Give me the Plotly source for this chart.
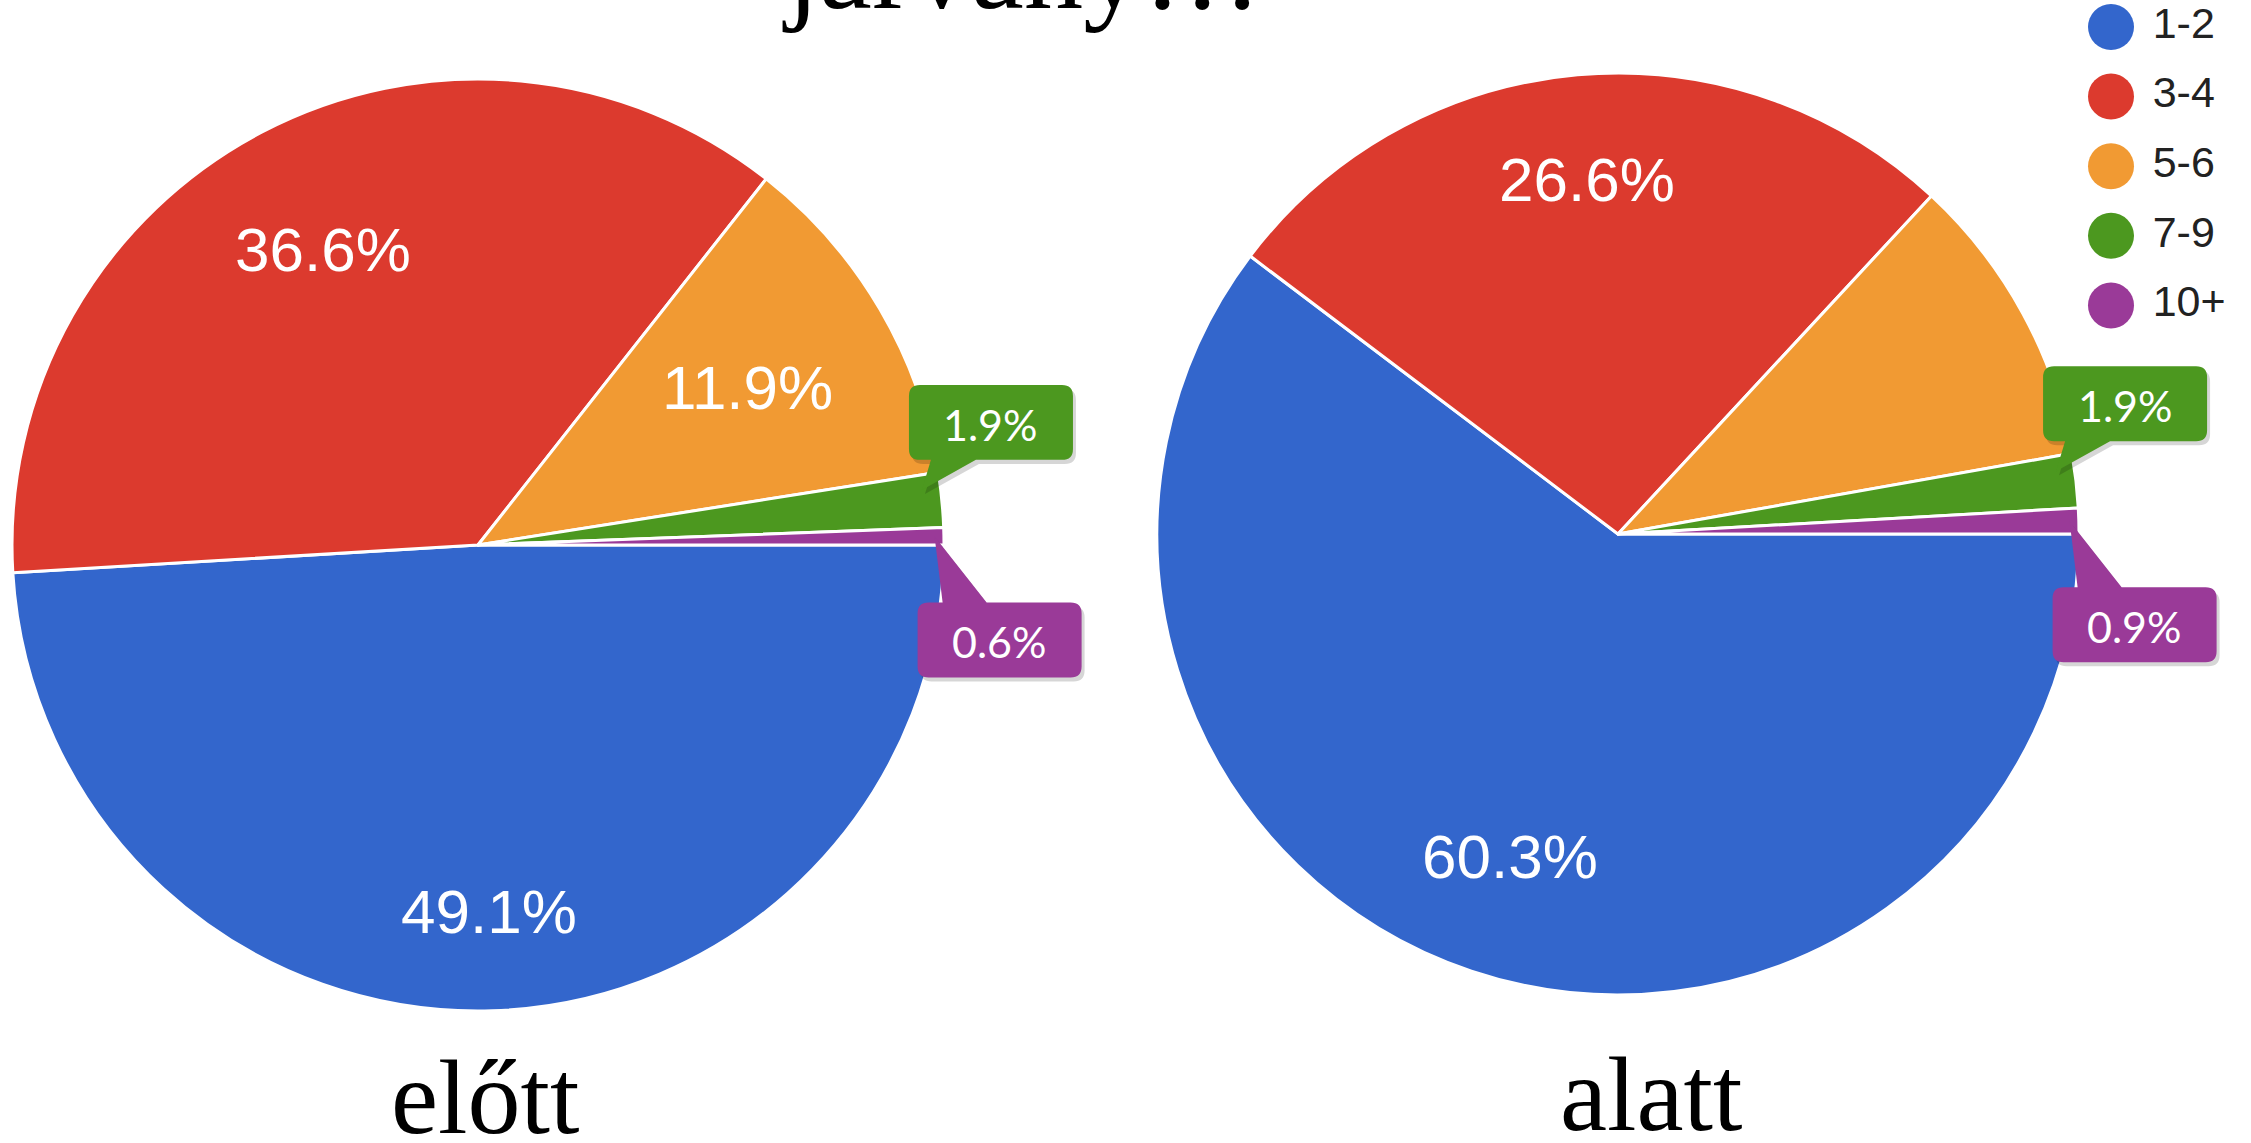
import math
import plotly.graph_objects as go

W, H = 2251, 1143

# ---------------- data ----------------
categories = ["1-2", "3-4", "5-6", "7-9", "10+"]
before_values = [49.1, 36.6, 11.9, 1.9, 0.6]
during_values = [60.3, 26.6, 10.3, 1.9, 0.9]
pie_titles = ["előtt", "alatt"]
main_title = "járvány…"

# ---------------- style / layout ----------------
colors = ["#3366CC", "#DC3A2E", "#F19A33", "#4C981F", "#9A3A98"]
PIE_GEOM = [(478, 545, 466), (1618, 534, 461)]   # centre x, centre y, radius (px)
TITLE_POS = [(485, 1097), (1651, 1094)]
LABEL_FONT = 62
LABEL_REACH = 0.86        # far corner of inside label sits at this fraction of radius
INSIDE_MIN = 11.0
CALLOUT_MAX = 5.0
BOX_W, BOX_H, BOX_R = 164, 75, 11
LEG_X, LEG_Y0, LEG_DY = 2111, 27, 69.6

SANS = "Liberation Sans, Arial, sans-serif"
SERIF = "Liberation Serif, Times New Roman, serif"
CALL_FONT = "Lato, Open Sans, sans-serif"

# Arial advance widths (em) for label size estimation
ADV = {".": 0.278, "%": 0.889}


def text_w(s, size):
    return sum(ADV.get(ch, 0.556) for ch in s) * size


def px(x):
    return x / W


def py(y):
    return 1 - y / H


def P(x, y):
    return f"{px(x):.5f},{py(y):.5f}"


def bubble_path(left, top, tip, b0, b1, side):
    r = BOX_R
    right, bottom = left + BOX_W, top + BOX_H
    d = f"M{P(left + r, top)}"
    if side == "top":
        d += f" L{P(b0, top)} L{P(*tip)} L{P(b1, top)}"
    d += f" L{P(right - r, top)} Q{P(right, top)} {P(right, top + r)}"
    d += f" L{P(right, bottom - r)} Q{P(right, bottom)} {P(right - r, bottom)}"
    if side == "bottom":
        d += f" L{P(b1, bottom)} L{P(*tip)} L{P(b0, bottom)}"
    d += f" L{P(left + r, bottom)} Q{P(left, bottom)} {P(left, bottom - r)}"
    d += f" L{P(left, top + r)} Q{P(left, top)} {P(left + r, top)} Z"
    return d


fig = go.Figure()
annotations = []
shapes = []

for (cx, cy, R), vals, ttl, tpos in zip(PIE_GEOM, [before_values, during_values], pie_titles, TITLE_POS):
    fig.add_trace(go.Pie(
        labels=categories, values=vals, sort=False, direction="clockwise", rotation=90,
        marker=dict(colors=colors, line=dict(color="white", width=3)),
        textinfo="none", hoverinfo="label+percent", showlegend=False,
        domain=dict(x=[px(cx - R), px(cx + R)], y=[py(cy + R), py(cy - R)]),
    ))
    total = sum(vals)
    cum = 0.0
    small = []
    for i, v in enumerate(vals):
        a0 = cum / total * 2 * math.pi
        cum += v
        a1 = cum / total * 2 * math.pi
        am = (a0 + a1) / 2
        if v >= INSIDE_MIN:
            txt = f"{v:.1f}%"
            c, s = math.cos(am), math.sin(am)
            a = math.copysign(text_w(txt, LABEL_FONT) / 2, c)
            b = math.copysign(0.37 * LABEL_FONT, s)
            L = LABEL_REACH * R
            k = c * a + s * b
            dist = -k + math.sqrt(k * k - (a * a + b * b - L * L))
            lx, ly = cx + dist * c, cy + dist * s
            annotations.append(dict(
                x=px(lx), y=py(ly), xref="paper", yref="paper", showarrow=False,
                text=txt, font=dict(family=SANS, size=LABEL_FONT, color="white"),
                xanchor="center", yanchor="middle", yshift=-1))
        elif v < CALLOUT_MAX:
            small.append((i, v, a0, a1))
    for j, (i, v, a0, a1) in enumerate(small):
        if j < len(small) - 1:
            at = a0 + 0.28 * (a1 - a0)
            tx = cx + 0.96 * R * math.cos(at)
            ty = cy + 0.96 * R * math.sin(at)
            left = tx - 13
            top = ty - 30 - BOX_H
            side = "bottom"
            b0, b1 = left + 22, left + 67
        else:
            at = (a0 + a1) / 2
            tx = cx + 0.98 * R * math.cos(at)
            ty = cy + 0.98 * R * math.sin(at)
            left = tx - 17
            top = ty + 66
            side = "top"
            b0, b1 = left + 25, left + 69
        shadow = bubble_path(left + 3, top + 4, (tx + 3, ty + 4), b0 + 3, b1 + 3, side)
        shapes.append(dict(type="path", path=shadow, xref="paper", yref="paper",
                           fillcolor="rgba(0,0,0,0.16)", line=dict(width=0)))
        shapes.append(dict(type="path", path=bubble_path(left, top, (tx, ty), b0, b1, side),
                           xref="paper", yref="paper", fillcolor=colors[i], line=dict(width=0)))
        annotations.append(dict(
            x=px(left + BOX_W / 2), y=py(top + BOX_H / 2 + 2), xref="paper", yref="paper",
            showarrow=False, text=f"{v:.1f}%", font=dict(family=CALL_FONT, size=43, color="white"),
            xanchor="center", yanchor="middle"))
    annotations.append(dict(
        x=px(tpos[0]), y=py(tpos[1]), xref="paper", yref="paper", showarrow=False,
        text=ttl, font=dict(family=SERIF, size=106, color="black"),
        xanchor="center", yanchor="middle"))

# title (cut off at top)
annotations.append(dict(
    x=px(1022), y=py(-32), xref="paper", yref="paper", showarrow=False,
    text=main_title, font=dict(family=SERIF, size=119, color="black"),
    xanchor="center", yanchor="middle"))

# legend as a scatter trace
fig.add_trace(go.Scatter(
    x=[0] * len(categories), y=list(range(len(categories))), mode="markers+text",
    text=["\u00a0" + c for c in categories], textposition="middle right",
    textfont=dict(family=SANS, size=43, color="#222222"),
    marker=dict(size=46, color=colors, line=dict(width=0)),
    hoverinfo="skip", showlegend=False, cliponaxis=False,
))

fig.update_layout(
    width=W, height=H, margin=dict(l=0, r=0, t=0, b=0),
    paper_bgcolor="white", plot_bgcolor="rgba(0,0,0,0)",
    showlegend=False, annotations=annotations, shapes=shapes,
    xaxis=dict(range=[-LEG_X, W - LEG_X], visible=False, fixedrange=True),
    yaxis=dict(range=[(H - LEG_Y0) / LEG_DY, -LEG_Y0 / LEG_DY], visible=False, fixedrange=True),
)

fig.write_html(
    "out.html",
    config={"displayModeBar": False},
    post_script="document.body.style.margin='0';document.body.style.overflow='hidden';",
)
